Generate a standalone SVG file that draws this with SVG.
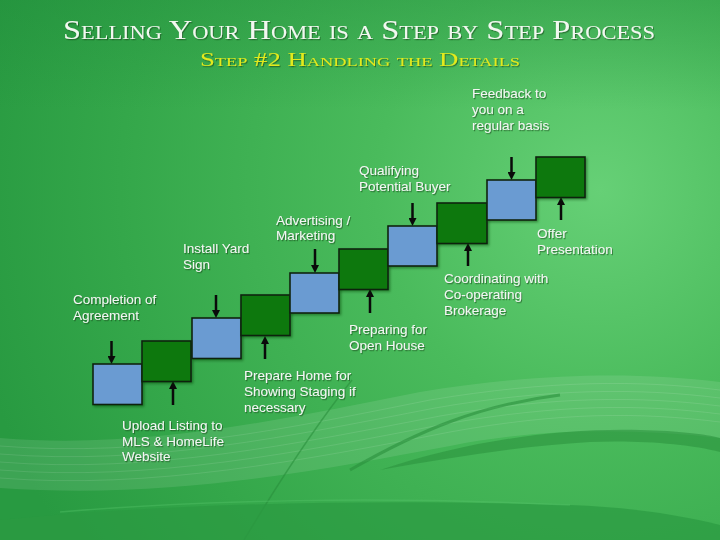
<svg xmlns="http://www.w3.org/2000/svg" width="720" height="540" viewBox="0 0 720 540">
  <defs>
    <radialGradient id="bg" cx="600" cy="190" r="640" gradientUnits="userSpaceOnUse">
      <stop offset="0" stop-color="#66d076"/>
      <stop offset="0.35" stop-color="#4abb5c"/>
      <stop offset="0.75" stop-color="#34a74a"/>
      <stop offset="1" stop-color="#289a41"/>
    </radialGradient>
    <linearGradient id="topShade" x1="0" y1="0" x2="0" y2="1">
      <stop offset="0" stop-color="#1f8a3a" stop-opacity="0.35"/>
      <stop offset="1" stop-color="#1f8a3a" stop-opacity="0"/>
    </linearGradient>
    <filter id="ts" x="-10%" y="-30%" width="130%" height="160%">
      <feDropShadow dx="1" dy="1.2" stdDeviation="0.6" flood-color="#0b3d12" flood-opacity="0.55"/>
    </filter>
    <filter id="bs" x="-10%" y="-10%" width="130%" height="130%">
      <feDropShadow dx="1.5" dy="1.5" stdDeviation="1" flood-color="#0a3a10" flood-opacity="0.45"/>
    </filter>
    <marker id="ah" viewBox="0 0 8 8" refX="2" refY="4" markerWidth="8" markerHeight="8" markerUnits="userSpaceOnUse" orient="auto">
      <path d="M0,0 L8,4 L0,8 Z" fill="#0a0a0a"/>
    </marker>
    <style>
      .blue { fill: #6a9bd2; stroke: #0e2410; stroke-width: 1.6; }
      .green { fill: #08780f; stroke: #0e2410; stroke-width: 1.6; }
      .lbl { font-family: "Liberation Sans", Arial, sans-serif; font-size: 13.5px; fill: #f3f6f3; }
      .arr { stroke: #0a0a0a; stroke-width: 2.5; fill: none; marker-end: url(#ah); }
      .title { font-family: "Liberation Serif", "DejaVu Serif", serif; font-variant: small-caps; }
    </style>
  </defs>

  <g id="background">
    <rect x="0" y="0" width="720" height="540" fill="url(#bg)"/>
    <rect x="0" y="0" width="720" height="110" fill="url(#topShade)"/>
    <path d="M0,438 C140,450 280,420 420,392 C540,372 640,372 720,382 L720,438 C630,428 540,428 450,446 C320,470 170,500 0,488 Z" fill="#ffffff" fill-opacity="0.1"/>
    <g stroke="#ffffff" stroke-opacity="0.1" stroke-width="1" fill="none">
      <path d="M0,446 C150,458 290,428 430,400 C550,380 640,380 720,390"/>
      <path d="M0,454 C150,466 290,436 435,408 C550,388 640,388 720,398"/>
      <path d="M0,462 C150,474 295,444 440,416 C555,396 640,396 720,406"/>
      <path d="M0,470 C150,482 300,452 445,424 C560,404 640,404 720,414"/>
      <path d="M0,478 C150,490 305,460 450,432 C560,412 640,412 720,422"/>
    </g>
    <path d="M380,470 C470,440 560,428 640,430 C680,431 705,434 720,438 L720,452 C690,444 640,440 590,442 C520,446 450,458 380,470 Z" fill="#2a8f3c" fill-opacity="0.55"/>
    <path d="M350,470 C420,430 480,405 560,395" stroke="#2a8f3c" stroke-opacity="0.6" stroke-width="3" fill="none"/>
    <path d="M244,540 C280,480 320,420 352,380" stroke="#2a8f3c" stroke-opacity="0.6" stroke-width="1.5" fill="none"/>
    <path d="M0,520 C150,505 350,498 570,505 C630,507 680,515 720,525 L720,540 L0,540 Z" fill="#2b9a41" fill-opacity="0.7"/>
    <path d="M60,512 C200,500 380,496 570,505" stroke="#56c468" stroke-opacity="0.4" stroke-width="1.5" fill="none"/>
  </g>

  <g id="title">
    <text class="title" x="359" y="38.7" font-size="27.5" fill="#f2f8f0" text-anchor="middle" textLength="592" lengthAdjust="spacingAndGlyphs" filter="url(#ts)">Selling Your Home is a Step by Step Process</text>
    <text class="title" x="360" y="65.5" font-size="19" fill="#e3ea1c" text-anchor="middle" textLength="320" lengthAdjust="spacingAndGlyphs" filter="url(#ts)">Step #2 Handling the Details</text>
  </g>

  <g id="connectors">
    <line class="arr" x1="111.5" y1="341" x2="111.5" y2="358"/>
    <line class="arr" x1="173" y1="405" x2="173" y2="387"/>
    <line class="arr" x1="216" y1="295" x2="216" y2="312"/>
    <line class="arr" x1="265" y1="359" x2="265" y2="342"/>
    <line class="arr" x1="315" y1="249" x2="315" y2="267"/>
    <line class="arr" x1="370" y1="313" x2="370" y2="295"/>
    <line class="arr" x1="412.5" y1="203" x2="412.5" y2="220"/>
    <line class="arr" x1="468" y1="266" x2="468" y2="249"/>
    <line class="arr" x1="511.5" y1="157" x2="511.5" y2="174"/>
    <line class="arr" x1="561" y1="220" x2="561" y2="203"/>
  </g>

  <g id="step1">
    <rect class="blue" x="93" y="364" width="49" height="40.5" filter="url(#bs)"/>
    <text class="lbl" filter="url(#ts)"><tspan x="73" y="304">Completion of</tspan><tspan x="73" y="320">Agreement</tspan></text>
  </g>
  <g id="step2">
    <rect class="green" x="142" y="341" width="49" height="40.5" filter="url(#bs)"/>
    <text class="lbl" filter="url(#ts)"><tspan x="122" y="430">Upload Listing to</tspan><tspan x="122" y="445.5">MLS &amp; HomeLife</tspan><tspan x="122" y="461">Website</tspan></text>
  </g>
  <g id="step3">
    <rect class="blue" x="192" y="318" width="49" height="40.5" filter="url(#bs)"/>
    <text class="lbl" filter="url(#ts)"><tspan x="183" y="253">Install Yard</tspan><tspan x="183" y="269">Sign</tspan></text>
  </g>
  <g id="step4">
    <rect class="green" x="241" y="295" width="49" height="40.5" filter="url(#bs)"/>
    <text class="lbl" filter="url(#ts)"><tspan x="244" y="380">Prepare Home for</tspan><tspan x="244" y="396">Showing Staging if</tspan><tspan x="244" y="412">necessary</tspan></text>
  </g>
  <g id="step5">
    <rect class="blue" x="290" y="273" width="49" height="40" filter="url(#bs)"/>
    <text class="lbl" filter="url(#ts)"><tspan x="276" y="224.5">Advertising /</tspan><tspan x="276" y="240">Marketing</tspan></text>
  </g>
  <g id="step6">
    <rect class="green" x="339" y="249" width="49" height="40.5" filter="url(#bs)"/>
    <text class="lbl" filter="url(#ts)"><tspan x="349" y="334">Preparing for</tspan><tspan x="349" y="349.5">Open House</tspan></text>
  </g>
  <g id="step7">
    <rect class="blue" x="388" y="226" width="49" height="40" filter="url(#bs)"/>
    <text class="lbl" filter="url(#ts)"><tspan x="359" y="175">Qualifying</tspan><tspan x="359" y="191">Potential Buyer</tspan></text>
  </g>
  <g id="step8">
    <rect class="green" x="437" y="203" width="50" height="40.5" filter="url(#bs)"/>
    <text class="lbl" filter="url(#ts)"><tspan x="444" y="283">Coordinating with</tspan><tspan x="444" y="299">Co-operating</tspan><tspan x="444" y="315">Brokerage</tspan></text>
  </g>
  <g id="step9">
    <rect class="blue" x="487" y="180" width="49" height="40" filter="url(#bs)"/>
    <text class="lbl" filter="url(#ts)"><tspan x="472" y="98">Feedback to</tspan><tspan x="472" y="114">you on a</tspan><tspan x="472" y="130">regular basis</tspan></text>
  </g>
  <g id="step10">
    <rect class="green" x="536" y="157" width="49" height="40.5" filter="url(#bs)"/>
    <text class="lbl" filter="url(#ts)"><tspan x="537" y="238">Offer</tspan><tspan x="537" y="253.5">Presentation</tspan></text>
  </g>
</svg>
